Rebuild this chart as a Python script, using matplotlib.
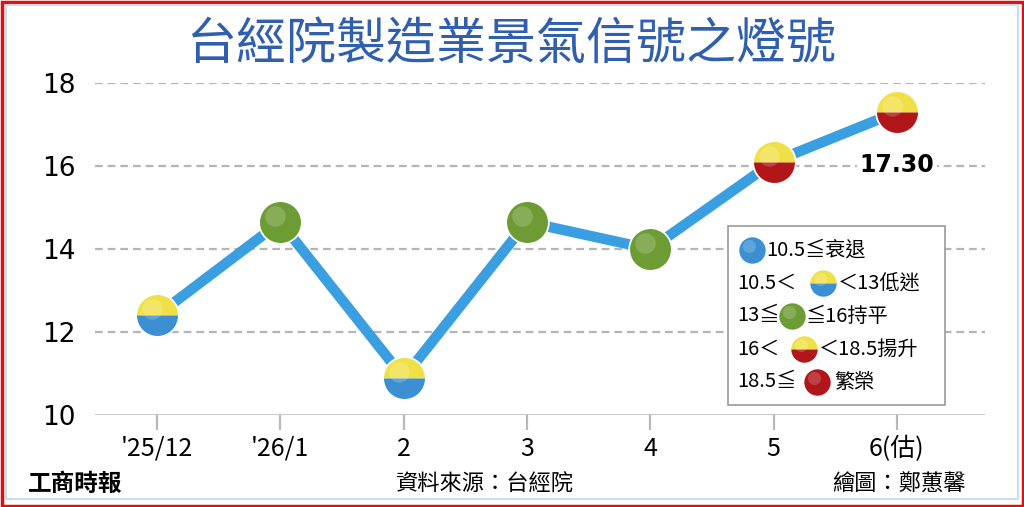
"""台經院製造業景氣信號之燈號 — line chart with two-tone signal lights."""

import matplotlib
matplotlib.use("Agg")
import matplotlib.pyplot as plt
from matplotlib.patches import Rectangle
from matplotlib.transforms import offset_copy

CJK = ["Noto Sans CJK TC", "DejaVu Sans"]
plt.rcParams["font.family"] = CJK

# Data
months = ["'25/12", "'26/1", "2", "3", "4", "5", "6(估)"]
scores = [12.4, 14.65, 10.9, 14.65, 14.0, 16.1, 17.30]
y_ticks = [10, 12, 14, 16, 18]

LINE_BLUE = "#3a9fe0"
BLUE = "#3b8fd2"
YELLOW = "#f0e048"
GREEN = "#6e9c34"
RED = "#b0161a"


def light_colors(v):
    # top colour, bottom colour for each signal band
    if v <= 10.5:
        return BLUE, BLUE
    if v < 13:
        return YELLOW, BLUE
    if v <= 16:
        return GREEN, GREEN
    if v < 18.5:
        return YELLOW, RED
    return RED, RED


def draw_light(axis, x, y, value, size, z=5, ring=2.5):
    top, bottom = light_colors(value)
    # white ring behind the light
    if ring:
        axis.plot([x], [y], marker="o", markersize=size + ring, markeredgewidth=0,
                  markerfacecolor="white", zorder=z - 0.1, clip_on=False)
    kw = dict(marker="o", markersize=size, markeredgewidth=0, zorder=z, clip_on=False)
    if top == bottom:
        kw.update(markerfacecolor=top, fillstyle="full")
    else:
        kw.update(markerfacecolor=top, markerfacecoloralt=bottom, fillstyle="top")
    axis.plot([x], [y], **kw)
    # faint glossy highlight towards the upper left
    tr = offset_copy(axis.transData, fig=axis.figure, x=-size * 0.12, y=size * 0.15,
                     units="points")
    axis.plot([x], [y], marker="o", markersize=size * 0.5, markeredgewidth=0,
              markerfacecolor="white", alpha=0.18, transform=tr, zorder=z + 0.1,
              clip_on=False)


def main() -> None:
    fig = plt.figure(figsize=(10.24, 5.07), dpi=100)
    fig.patch.set_facecolor("white")

    ax = fig.add_axes([95 / 1024, 1 - 415 / 507, 890 / 1024, 332 / 507])
    ax.set_facecolor("none")
    xs = list(range(len(months)))

    # dashed grid lines
    for t in y_ticks[1:]:
        ax.axhline(t, color="#b5b5b5", lw=1.6, dashes=(3.5, 2.2), zorder=1)
    ax.axhline(10, color="#b8b8b8", lw=1.8, zorder=1)

    ax.plot(xs, scores, color=LINE_BLUE, lw=7.5, solid_capstyle="butt", zorder=3)
    for x, v in zip(xs, scores):
        draw_light(ax, x, v, v, 29.5)

    ax.annotate(f"{scores[-1]:.2f}", (xs[-1], scores[-1]), xytext=(0, -38),
                textcoords="offset points", ha="center", va="center",
                fontsize=17, fontweight="bold", family=["DejaVu Sans"], zorder=6,
                bbox=dict(boxstyle="square,pad=0.1", fc="white", ec="none"))

    ax.set_xlim(-0.503, 6.715)
    ax.set_ylim(10, 18)
    ax.set_xticks(xs)
    ax.set_xticklabels(months, fontsize=18, family=["Liberation Sans Narrow", "Noto Sans CJK TC"])
    ax.set_yticks(y_ticks)
    ax.set_yticklabels([str(t) for t in y_ticks], fontsize=19, family=["DejaVu Sans"])
    ax.tick_params(axis="x", direction="out", length=11, width=1.6, color="#b8b8b8", pad=4)
    ax.tick_params(axis="y", length=0, pad=14)
    for s in ax.spines.values():
        s.set_visible(False)

    # overlay in pixel coordinates for frame, title, legend, footer
    ov = fig.add_axes([0, 0, 1, 1], zorder=10)
    ov.set_xlim(0, 1024)
    ov.set_ylim(507, 0)
    ov.axis("off")
    ov.set_facecolor("none")
    ov.add_patch(Rectangle((1.5, 1.5), 1021, 504, fill=False, ec="#e01010", lw=2.5))
    ov.add_patch(Rectangle((6, 5), 1012, 494, fill=False, ec="#c5def0", lw=1.5))

    ov.text(512, 45, "台經院製造業景氣信號之燈號", ha="center", va="center",
            fontsize=36, color="#2f5fae", fontweight="medium")

    # legend box
    ov.add_patch(Rectangle((728, 226), 217, 179, fc="white", ec="#9a9a9a", lw=1.2))
    fs = 14.5
    rows = [
        (250, None, 752, 10.0, "10.5≦衰退", 766),
        (283, "10.5＜", 823, 11.5, "＜13低迷", 838),
        (316, "13≦", 792, 14.0, "≦16持平", 806),
        (349, "16＜", 804, 17.0, "＜18.5揚升", 819),
        (382, "18.5≦", 817, 19.0, "繁榮", 834),
    ]
    for y, left, cx, sample, right, rx in rows:
        if left:
            ov.text(737, y, left, ha="left", va="center", fontsize=fs)
        draw_light(ov, cx, y, sample, 19, z=12, ring=0)
        ov.text(rx, y, right, ha="left", va="center", fontsize=fs)

    # footer
    ov.text(28, 484, "工商時報", ha="left", va="center", fontsize=17,
            fontweight="black", fontstyle="italic")
    ov.text(485, 484, "資料來源：台經院", ha="center", va="center", fontsize=16)
    ov.text(966, 484, "繪圖：鄭蕙馨", ha="right", va="center", fontsize=16)

    fig.savefig("out.png", dpi=100)


if __name__ == "__main__":
    main()
